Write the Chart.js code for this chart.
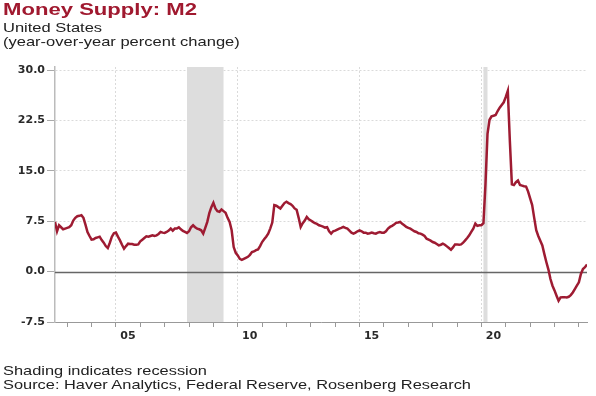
<!DOCTYPE html>
<html>
<head>
<meta charset="utf-8">
<script src="https://cdn.jsdelivr.net/npm/chart.js@4/dist/chart.umd.min.js"></script>
<style>
  html, body { margin: 0; padding: 0; background: #fff; }
  body { width: 596px; height: 396px; position: relative; overflow: hidden; font-family: "Liberation Sans", Arial, sans-serif; color: #222; }
  #chartBox { position: absolute; left: 0; top: 0; width: 596px; height: 396px; }
  .txt { position: absolute; left: 3px; white-space: nowrap; transform-origin: 0 0; }
  #title { top: 1px; font-size: 17px; line-height: 18px; font-weight: bold; color: #a0192f; transform: scaleX(1.3); }
  #sub { top: 21px; font-size: 13px; line-height: 14px; transform: scaleX(1.27); }
  #foot { top: 364px; font-size: 13px; line-height: 13.5px; transform: scaleX(1.26); }
</style>
</head>
<body>
<div id="chartBox"><canvas id="m2Chart" width="596" height="396"></canvas></div>
<div class="txt" id="title">Money Supply: M2</div>
<div class="txt" id="sub">United States<br>(year-over-year percent change)</div>
<div class="txt" id="foot">Shading indicates recession<br>Source: Haver Analytics, Federal Reserve, Rosenberg Research</div>
<script>
// monthly M2 year-over-year % change, starting Jul 2002
const startYear = 2002;
const startMonth = 7;
const m2Growth = [
  // 2002 (Jul-Dec)
  7.4, 6.0, 6.9, 6.6, 6.3, 6.4,
  // 2003
  6.5, 6.6, 6.9, 7.6, 8.0, 8.25, 8.3, 8.4, 8.0, 7.0, 5.9, 5.3,
  // 2004
  4.75, 4.8, 5.0, 5.1, 5.2, 4.7, 4.3, 3.8, 3.5, 4.3, 5.2, 5.7,
  // 2005
  5.8, 5.2, 4.65, 4.0, 3.4, 3.8, 4.15, 4.1, 4.1, 4.0, 4.0, 4.05,
  // 2006
  4.5, 4.75, 5.0, 5.25, 5.2, 5.3, 5.4, 5.3, 5.4, 5.6, 5.9, 5.8,
  // 2007
  5.75, 5.9, 6.1, 6.4, 6.1, 6.4, 6.4, 6.6, 6.3, 6.05, 5.9, 5.75,
  // 2008
  6.0, 6.6, 6.9, 6.6, 6.4, 6.3, 6.15, 5.65, 6.5, 7.4, 8.7, 9.6,
  // 2009
  10.25, 9.4, 9.0, 8.9, 9.25, 9.0, 8.75, 8.0, 7.4, 6.15, 3.65, 2.8,
  // 2010
  2.4, 1.9, 1.75, 1.9, 2.05, 2.2, 2.5, 2.9, 3.0, 3.2, 3.3, 3.8,
  // 2011
  4.4, 4.8, 5.2, 5.65, 6.4, 7.3, 9.9, 9.8, 9.6, 9.4, 9.8, 10.2,
  // 2012
  10.4, 10.2, 10.05, 9.8, 9.4, 9.2, 8.0, 6.65, 7.2, 7.6, 8.15, 7.8,
  // 2013
  7.6, 7.4, 7.2, 7.1, 6.9, 6.8, 6.7, 6.55, 6.6, 6.0, 5.65, 6.0,
  // 2014
  6.1, 6.25, 6.4, 6.5, 6.65, 6.5, 6.4, 6.1, 5.8, 5.65, 5.8, 6.0,
  // 2015
  6.15, 6.0, 5.8, 5.8, 5.65, 5.7, 5.8, 5.7, 5.65, 5.8, 5.9, 5.8,
  // 2016
  5.8, 6.0, 6.4, 6.65, 6.8, 7.0, 7.25, 7.3, 7.4, 7.1, 6.9, 6.65,
  // 2017
  6.5, 6.4, 6.2, 6.0, 5.9, 5.7, 5.65, 5.5, 5.3, 4.9, 4.75, 4.6,
  // 2018
  4.4, 4.3, 4.1, 3.9, 4.0, 4.15, 4.0, 3.75, 3.5, 3.25, 3.6, 4.05,
  // 2019
  4.05, 4.0, 4.05, 4.3, 4.65, 5.0, 5.4, 5.9, 6.4, 7.15, 6.8, 6.9,
  // 2020
  6.9, 7.2, 13.0, 20.5, 22.6, 23.1, 23.2, 23.3, 23.9, 24.4, 24.8, 25.2,
  // 2021
  26.0, 26.9, 19.5, 13.0, 12.9, 13.3, 13.55, 12.9, 12.8, 12.7, 12.65, 11.9,
  // 2022
  10.9, 9.9, 8.0, 6.15, 5.3, 4.6, 3.9, 2.6, 1.4, 0.3, -1.1, -2.1,
  // 2023
  -2.8, -3.6, -4.35, -3.85, -3.8, -3.8, -3.85, -3.75, -3.5, -3.1, -2.6, -2.1,
  // 2024 (Jan-May)
  -1.6, -0.35, 0.4, 0.65, 1.05,
];

// recessions (first and last month)
const recessionStarts = ["2007-12", "2020-02"];
const recessionEnds = ["2009-06", "2020-04"];

const yTicks = [-7.5, 0, 7.5, 15, 22.5, 30];
const labeledYears = [2005, 2010, 2015, 2020];
const yearLabels = ["05", "10", "15", "20"];

function monthToYear(str) {
  const [y, m] = str.split("-").map(Number);
  return y + (m - 1) / 12;
}

const points = m2Growth.map((v, i) => ({ x: startYear + (startMonth - 1 + i) / 12, y: v }));
const xMin = points[0].x;
const xMax = points[points.length - 1].x;

const recessionShading = {
  id: "recessionShading",
  beforeDatasetsDraw(chart) {
    const { ctx, chartArea, scales } = chart;
    ctx.save();
    ctx.fillStyle = "#dddddd";
    recessionStarts.forEach((start, i) => {
      const x1 = scales.x.getPixelForValue(monthToYear(start));
      const x2 = scales.x.getPixelForValue(monthToYear(recessionEnds[i]));
      ctx.fillRect(x1, chartArea.top, Math.max(x2 - x1, 4), chartArea.bottom - chartArea.top);
    });
    // zero line on top of the shading
    const y0 = Math.round(scales.y.getPixelForValue(0)) + 0.5;
    ctx.strokeStyle = "#666666";
    ctx.lineWidth = 1.5;
    ctx.beginPath();
    ctx.moveTo(chartArea.left, y0);
    ctx.lineTo(chartArea.right, y0);
    ctx.stroke();
    ctx.restore();
  },
};

Chart.defaults.font.family = "'DejaVu Sans', sans-serif";
Chart.defaults.color = "#2a2a2a";

new Chart(document.getElementById("m2Chart"), {
  type: "line",
  data: {
    datasets: [
      {
        label: "M2",
        data: points,
        borderColor: "#9e1b32",
        borderWidth: 2.5,
        pointRadius: 0,
        tension: 0,
        fill: false,
      },
    ],
  },
  options: {
    responsive: false,
    animation: false,
    devicePixelRatio: 1,
    layout: { padding: { left: 0, top: 67, right: 9, bottom: 54 } },
    plugins: {
      legend: { display: false },
      tooltip: { enabled: false },
    },
    scales: {
      x: {
        type: "linear",
        min: xMin,
        max: xMax,
        afterBuildTicks: (scale) => {
          const ticks = [];
          for (let yr = Math.ceil(xMin); yr <= Math.floor(xMax); yr++) ticks.push({ value: yr });
          scale.ticks = ticks;
        },
        afterFit: (scale) => {
          scale.height = 20;
        },
        ticks: {
          autoSkip: false,
          maxRotation: 0,
          labelOffset: 12,
          padding: 3,
          font: { size: 11, weight: "bold" },
          callback: (value) => {
            const i = labeledYears.indexOf(value);
            return i >= 0 ? yearLabels[i] : "";
          },
        },
        grid: {
          color: (ctx) => (ctx.tick && labeledYears.includes(ctx.tick.value) ? "#dadada" : "rgba(0,0,0,0)"),
          tickColor: "#999999",
          tickLength: 5,
        },
        border: { display: true, color: "#999999", width: 1, dash: [2, 2] },
      },
      y: {
        min: -7.5,
        max: 30.45,
        afterBuildTicks: (scale) => {
          scale.ticks = yTicks.map((v) => ({ value: v }));
        },
        afterFit: (scale) => {
          scale.width = 55;
        },
        ticks: {
          padding: 2,
          font: { size: 11, weight: "bold" },
          callback: (value) => value.toFixed(1),
        },
        grid: {
          color: (ctx) => (ctx.tick && ctx.tick.value === 0 ? "rgba(0,0,0,0)" : "#dadada"),
          tickColor: "#aaaaaa",
          tickLength: 8,
        },
        border: { display: true, color: "#bbbbbb", width: 1.5, dash: [2, 2] },
      },
    },
  },
  plugins: [recessionShading],
});
</script>
</body>
</html>
